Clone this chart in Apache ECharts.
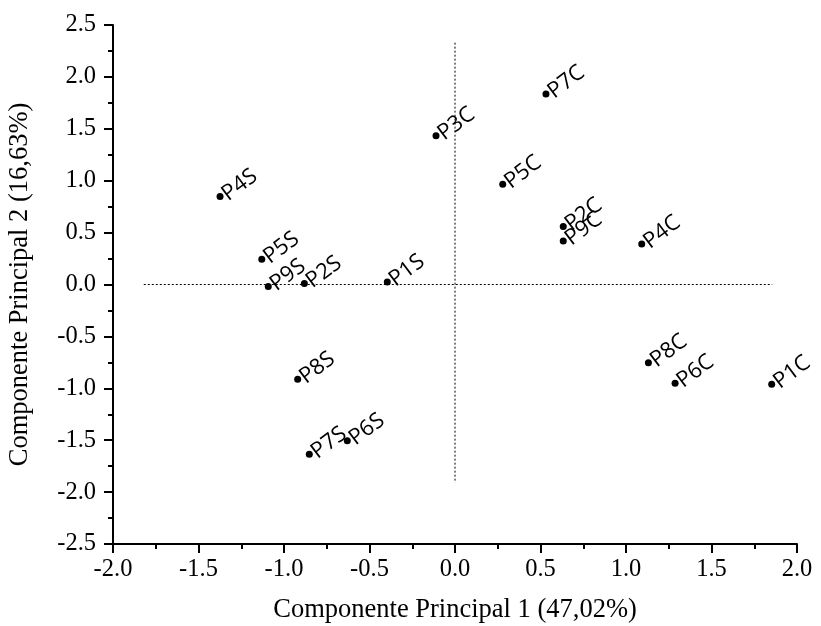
<!DOCTYPE html>
<html>
<head>
<meta charset="utf-8">
<script src="https://cdn.jsdelivr.net/npm/echarts@6/dist/echarts.min.js"></script>
<style>html,body{margin:0;padding:0;background:#fff}#c{width:821px;height:626px}</style>
</head>
<body>
<div id="c"></div>
<script>
var names = ['P1S','P2S','P4S','P5S','P6S','P7S','P8S','P9S','P1C','P2C','P3C','P4C','P5C','P6C','P7C','P8C','P9C'];
var pc1 = [-0.396,-0.881,-1.374,-1.130,-0.630,-0.852,-0.920,-1.092,1.852,0.633,-0.111,1.092,0.279,1.287,0.532,1.131,0.633];
var pc2 = [0.025,0.009,0.848,0.244,-1.505,-1.636,-0.913,-0.020,-0.961,0.558,1.432,0.389,0.967,-0.952,1.835,-0.753,0.420];
var hLineX = [-1.82, 1.855];
var vLineY = [2.33, -1.91];
var xTitle = 'Componente Principal 1 (47,02%)';
var yTitle = 'Componente Principal 2 (16,63%)';

var pts = names.map(function(n,i){ return {name:n, value:[pc1[i], pc2[i]]}; });

var serif = '"Liberation Serif","Times New Roman",serif';
var chart = echarts.init(document.getElementById('c'), null, {renderer:'canvas'});
var axisCommon = {
  axisLine:{show:true, onZero:false, lineStyle:{color:'#000', width:2}},
  axisTick:{show:true, inside:false, length:9, lineStyle:{color:'#000', width:2}},
  minorTick:{show:true, splitNumber:2, length:5, lineStyle:{color:'#000', width:2}},
  splitLine:{show:false},
  axisLabel:{color:'#000', fontFamily:serif, fontSize:24.5, formatter:function(v){return v.toFixed(1);}},
  nameTextStyle:{color:'#000', fontFamily:serif, fontSize:26.5},
  nameLocation:'middle'
};
chart.setOption({
  animation:false,
  backgroundColor:'#fff',
  grid:{left:113, right:24, top:25, bottom:82, containLabel:false, outerBoundsMode:'none'},
  xAxis: Object.assign({}, axisCommon, {
    type:'value', min:-2, max:2, interval:0.5, name:xTitle, nameGap:53,
    axisLabel:Object.assign({}, axisCommon.axisLabel, {margin:13})
  }),
  yAxis: Object.assign({}, axisCommon, {
    type:'value', min:-2.5, max:2.5, interval:0.5, name:yTitle, nameGap:79,
    axisLabel:Object.assign({}, axisCommon.axisLabel, {margin:17})
  }),
  series:[
    {type:'line', data:[[hLineX[0],0],[hLineX[1],0]], symbol:'none', silent:true,
     lineStyle:{color:'#000', width:1, type:[2,2]}},
    {type:'line', data:[[0,vLineY[0]],[0,vLineY[1]]], symbol:'none', silent:true,
     lineStyle:{color:'#000', width:1, type:[2,2]}},
    {type:'scatter', data:pts, symbol:'circle', symbolSize:7,
     itemStyle:{color:'#000', opacity:1},
     label:{show:true, formatter:'{b}', position:'right', distance:1, rotate:37,
       align:'left', verticalAlign:'middle',
       color:'#000', fontFamily:'"Open Sans", sans-serif', fontSize:22}}
  ]
});
</script>
</body>
</html>
